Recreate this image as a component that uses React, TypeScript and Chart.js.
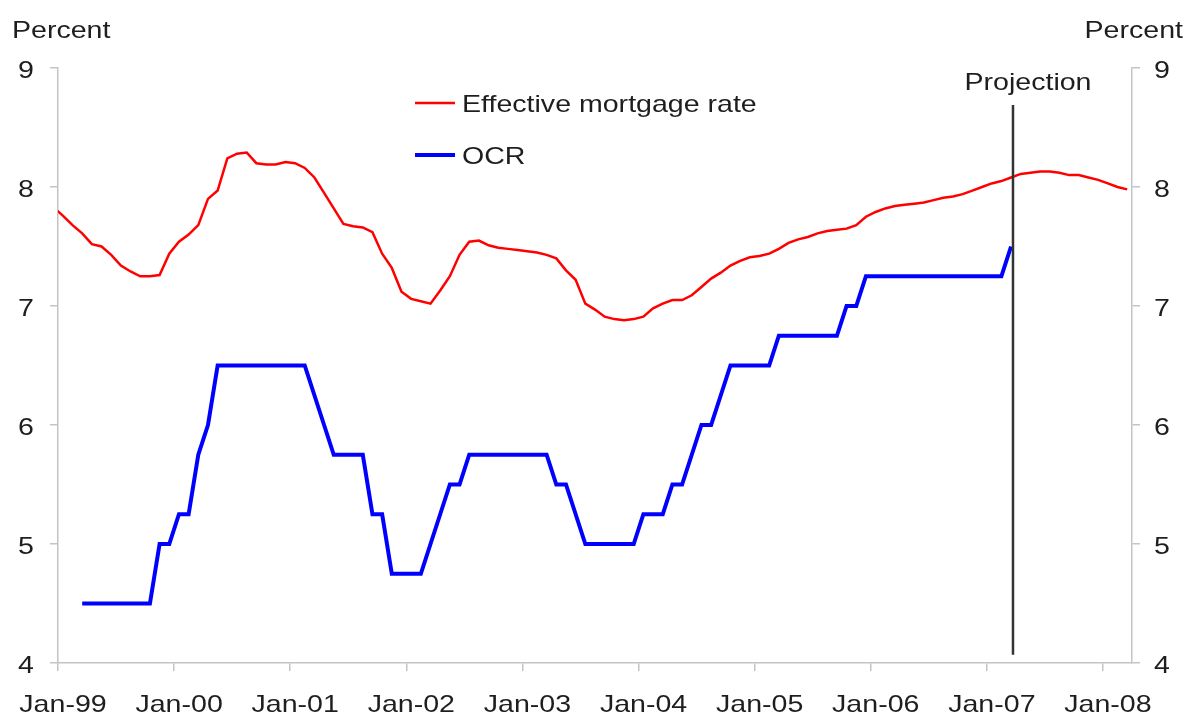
import { useEffect, useRef } from "react";
import { Chart, registerables } from "chart.js";

Chart.register(...registerables);

// Month index 0 = Jan-99; values are monthly, plotted at mid-month
const MID = 0.5;

// Effective mortgage rate, Dec-98 .. Mar-08
const mortgageStart = -1;
const mortgageRate = [
  7.83,
  7.76, 7.68, 7.61, 7.52, 7.5, 7.43, 7.34, 7.29, 7.25, 7.25, 7.26, 7.44,
  7.54, 7.6, 7.68, 7.9, 7.97, 8.24, 8.28, 8.29, 8.2, 8.19, 8.19, 8.21,
  8.2, 8.16, 8.08, 7.95, 7.82, 7.69, 7.67, 7.66, 7.62, 7.44, 7.32, 7.12,
  7.06, 7.04, 7.02, 7.13, 7.25, 7.43, 7.54, 7.55, 7.51, 7.49, 7.48, 7.47,
  7.46, 7.45, 7.43, 7.4, 7.3, 7.22, 7.02, 6.97, 6.91, 6.89, 6.88, 6.89,
  6.91, 6.98, 7.02, 7.05, 7.05, 7.09, 7.16, 7.23, 7.28, 7.34, 7.38, 7.41,
  7.42, 7.44, 7.48, 7.53, 7.56, 7.58, 7.61, 7.63, 7.64, 7.65, 7.68, 7.75,
  7.79, 7.82, 7.84, 7.85, 7.86, 7.87, 7.89, 7.91, 7.92, 7.94, 7.97, 8.0,
  8.03, 8.05, 8.08, 8.11, 8.12, 8.13, 8.13, 8.12, 8.1, 8.1, 8.08, 8.06,
  8.03, 8.0, 7.98,
];

// OCR, Mar-99 .. Mar-07
const ocrStart = 2;
const ocrRate = [
  4.5, 4.5, 4.5, 4.5, 4.5, 4.5, 4.5, 4.5, 5.0, 5.0,
  5.25, 5.25, 5.75, 6.0, 6.5, 6.5, 6.5, 6.5, 6.5, 6.5, 6.5, 6.5, 6.5, 6.5,
  6.25, 6.0, 5.75, 5.75, 5.75, 5.75, 5.25, 5.25, 4.75, 4.75, 4.75, 4.75,
  5.0, 5.25, 5.5, 5.5, 5.75, 5.75, 5.75, 5.75, 5.75, 5.75, 5.75, 5.75,
  5.75, 5.5, 5.5, 5.25, 5.0, 5.0, 5.0, 5.0, 5.0, 5.0,
  5.25, 5.25, 5.25, 5.5, 5.5, 5.75, 6.0, 6.0, 6.25, 6.5, 6.5, 6.5, 6.5, 6.5,
  6.75, 6.75, 6.75, 6.75, 6.75, 6.75, 6.75, 7.0, 7.0,
  7.25, 7.25, 7.25, 7.25, 7.25, 7.25, 7.25, 7.25, 7.25, 7.25, 7.25, 7.25,
  7.25, 7.25, 7.25, 7.5,
];

const xTickLabels = [
  "Jan-99", "Jan-00", "Jan-01", "Jan-02", "Jan-03",
  "Jan-04", "Jan-05", "Jan-06", "Jan-07", "Jan-08",
];
const xMax = 111; // Apr-08
const yMin = 4;
const yMax = 9;
const yTickValues = [4, 5, 6, 7, 8, 9];
const projectionMonth = 98.7;
const projectionTop = 8.69;
const projectionBottom = 4.07;

const FONT = '24px "Liberation Sans", Arial, sans-serif';
const SX = 1.19;
const TEXT = "#1e1e1e";
const AXIS = "#c4c4c4";

function stretchedText(
  ctx: CanvasRenderingContext2D,
  text: string,
  x: number,
  y: number,
  align: CanvasTextAlign
) {
  ctx.save();
  ctx.translate(x, y);
  ctx.scale(SX, 1);
  ctx.textAlign = align;
  ctx.textBaseline = "alphabetic";
  ctx.fillText(text, 0, 0);
  ctx.restore();
}

const overlayPlugin = {
  id: "overlay",
  afterDraw(chart: any) {
    const ctx: CanvasRenderingContext2D = chart.ctx;
    const xs = chart.scales.x;
    const ys = chart.scales.y;
    const ys2 = chart.scales.y2;
    ctx.save();
    ctx.font = FONT;
    ctx.fillStyle = TEXT;

    // x tick labels
    xTickLabels.forEach((lab, i) => {
      stretchedText(ctx, lab, xs.getPixelForValue(i * 12) + 5, 712, "center");
    });
    // y tick labels
    yTickValues.forEach((v) => {
      stretchedText(ctx, String(v), ys.left + 34, ys.getPixelForValue(v) + 10, "right");
      stretchedText(ctx, String(v), ys2.left + 22, ys2.getPixelForValue(v) + 10, "left");
    });
    // axis titles
    stretchedText(ctx, "Percent", 12, 38, "left");
    stretchedText(ctx, "Percent", 1183, 38, "right");

    // projection line
    const px = xs.getPixelForValue(projectionMonth);
    ctx.strokeStyle = "#333333";
    ctx.lineWidth = 2.5;
    ctx.beginPath();
    ctx.moveTo(px, ys.getPixelForValue(projectionTop));
    ctx.lineTo(px, ys.getPixelForValue(projectionBottom));
    ctx.stroke();
    stretchedText(ctx, "Projection", px + 15, 90, "center");

    // legend
    const ds = chart.data.datasets;
    const legendY = [103, 155];
    ds.forEach((d: any, i: number) => {
      ctx.strokeStyle = d.borderColor;
      ctx.lineWidth = d.borderWidth;
      ctx.beginPath();
      ctx.moveTo(415, legendY[i]);
      ctx.lineTo(455, legendY[i]);
      ctx.stroke();
      ctx.fillStyle = TEXT;
      stretchedText(ctx, d.label, 462, legendY[i] + 9, "left");
    });
    ctx.restore();
  },
};

export default function App() {
  const ref = useRef<HTMLCanvasElement>(null);
  useEffect(() => {
    const toPoints = (start: number, vals: number[]) =>
      vals.map((v, i) => ({ x: start + i + MID, y: v }));
    const gridOpts = {
      drawOnChartArea: false,
      drawTicks: true,
      tickLength: 8,
      color: AXIS,
      lineWidth: 1.5,
    };
    const borderOpts = { display: true, color: AXIS, width: 1.5 };
    const chart = new Chart(ref.current!, {
      type: "line",
      data: {
        datasets: [
          {
            label: "Effective mortgage rate",
            data: toPoints(mortgageStart, mortgageRate),
            borderColor: "#ff0000",
            borderWidth: 2.5,
            pointRadius: 0,
            tension: 0,
          },
          {
            label: "OCR",
            data: toPoints(ocrStart, ocrRate),
            borderColor: "#0000ff",
            borderWidth: 4,
            pointRadius: 0,
            tension: 0,
            borderJoinStyle: "miter",
          },
        ],
      },
      options: {
        animation: false,
        responsive: true,
        maintainAspectRatio: false,
        events: [],
        layout: { padding: { top: 68, left: 0, right: 0, bottom: 0 } },
        plugins: {
          legend: { display: false },
          tooltip: { enabled: false },
          title: { display: false },
        },
        scales: {
          x: {
            type: "linear",
            min: 0,
            max: xMax,
            afterBuildTicks: (s: any) => {
              s.ticks = xTickLabels.map((_, i) => ({ value: i * 12 }));
            },
            ticks: { display: false },
            grid: gridOpts,
            border: borderOpts,
            afterFit: (s: any) => {
              s.height = 55;
            },
          },
          y: {
            position: "left",
            min: yMin,
            max: yMax,
            ticks: { display: false, stepSize: 1 },
            grid: gridOpts,
            border: borderOpts,
            afterFit: (s: any) => {
              s.width = 58;
            },
          },
          y2: {
            position: "right",
            min: yMin,
            max: yMax,
            ticks: { display: false, stepSize: 1 },
            grid: gridOpts,
            border: borderOpts,
            afterFit: (s: any) => {
              s.width = 56;
            },
          },
        },
      } as any,
      plugins: [overlayPlugin],
    });
    return () => chart.destroy();
  }, []);
  return (
    <div
      style={{
        position: "fixed",
        left: 0,
        top: 0,
        width: 1188,
        height: 718,
        background: "#ffffff",
      }}
    >
      <canvas ref={ref} />
    </div>
  );
}
